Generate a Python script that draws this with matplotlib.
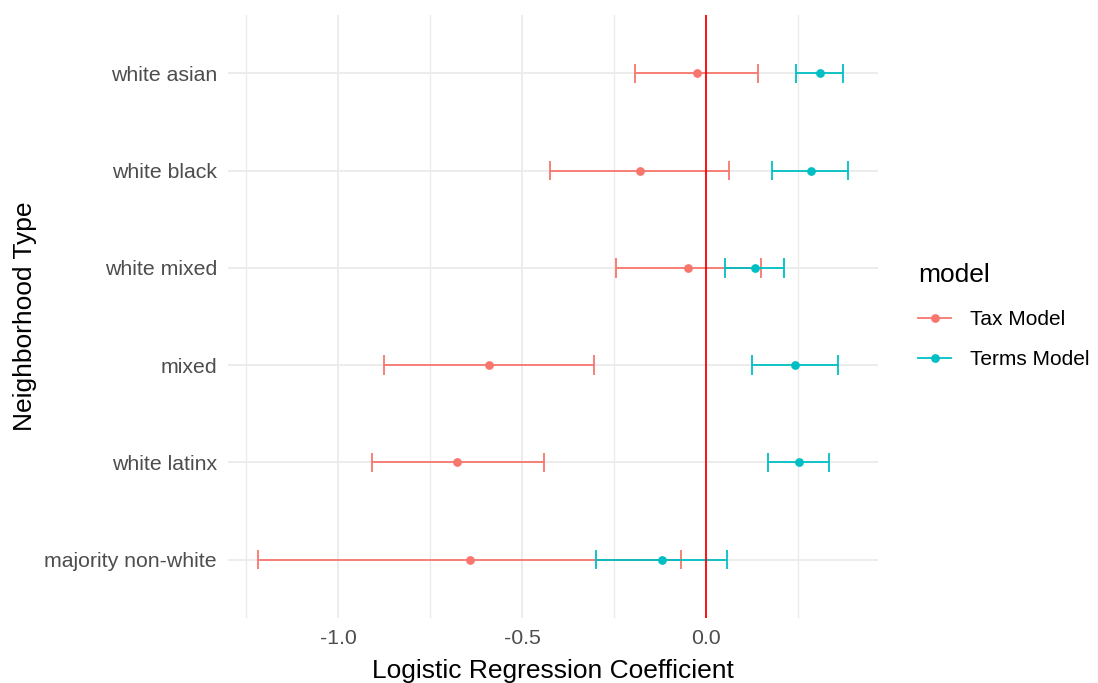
import matplotlib.pyplot as plt
from matplotlib.lines import Line2D
from matplotlib.ticker import MultipleLocator

plt.rcParams['font.family'] = ['Liberation Sans', 'DejaVu Sans']

# neighborhood types, bottom to top
categories = ["majority non-white", "white latinx", "mixed",
              "white mixed", "white black", "white asian"]

tax_est = [-0.642, -0.677, -0.590, -0.050, -0.180, -0.025]
tax_lo = [-1.218, -0.908, -0.874, -0.246, -0.424, -0.193]
tax_hi = [-0.068, -0.441, -0.305, 0.149, 0.063, 0.140]

terms_est = [-0.121, 0.251, 0.242, 0.132, 0.284, 0.308]
terms_lo = [-0.299, 0.169, 0.124, 0.052, 0.179, 0.245]
terms_hi = [0.057, 0.334, 0.357, 0.212, 0.386, 0.372]

models = ["Tax Model", "Terms Model"]
colors = ["#F8766D", "#00BFC4"]

fig = plt.figure(figsize=(10.98, 6.83), dpi=100)
ax = fig.add_axes([0.2077, 0.0952, 0.5919, 0.8828])

y = list(range(len(categories)))
cap = 0.1

series = [(tax_est, tax_lo, tax_hi), (terms_est, terms_lo, terms_hi)]
for (est, lo, hi), col in zip(series, colors):
    ax.hlines(y, lo, hi, color=col, lw=1.3, zorder=3)
    ax.vlines(lo, [v - cap for v in y], [v + cap for v in y], color=col, lw=1.3, zorder=3)
    ax.vlines(hi, [v - cap for v in y], [v + cap for v in y], color=col, lw=1.3, zorder=3)
for (est, lo, hi), col in zip(series, colors):
    ax.plot(est, y, 'o', color=col, ms=6.3, zorder=4, mec='none')

ax.axvline(0, color='red', lw=1.3, zorder=5)

# ggplot-style 5% expansion
lo_all = min(tax_lo + terms_lo)
hi_all = max(tax_hi + terms_hi)
span = hi_all - lo_all
ax.set_xlim(lo_all - 0.05 * span, hi_all + 0.05 * span)
ax.set_ylim(-0.6, len(categories) - 0.4)

ax.xaxis.set_major_locator(MultipleLocator(0.5))
ax.xaxis.set_minor_locator(MultipleLocator(0.25))
ax.set_xticks([-1.0, -0.5, 0.0])
ax.set_xticklabels(["-1.0", "-0.5", "0.0"])
ax.set_yticks(y)
ax.set_yticklabels(categories)

ax.grid(True, which='major', color='#EBEBEB', lw=1.3, zorder=0)
ax.grid(True, which='minor', axis='x', color='#EBEBEB', lw=1.0, zorder=0)
ax.set_axisbelow(True)
for s in ax.spines.values():
    s.set_visible(False)
ax.tick_params(which='both', length=0, labelsize=15.3, labelcolor='#4D4D4D', pad=8)

ax.set_xlabel("Logistic Regression Coefficient", fontsize=19, color='black', labelpad=8)
ax.set_ylabel("Neighborhood Type", fontsize=19, color='black', labelpad=5)

handles = [Line2D([0], [0], color=c, lw=1.3, marker='o', ms=6.3, mec='none') for c in colors]
leg = fig.legend(handles, models, title="model", loc='upper left',
                 bbox_to_anchor=(0.819, 0.643), frameon=False, fontsize=15,
                 title_fontsize=19, handlelength=1.6, handletextpad=0.9,
                 labelspacing=1.0)
leg._legend_box.align = "left"
leg._legend_box.sep = 17

fig.savefig("out.png", dpi=100)
